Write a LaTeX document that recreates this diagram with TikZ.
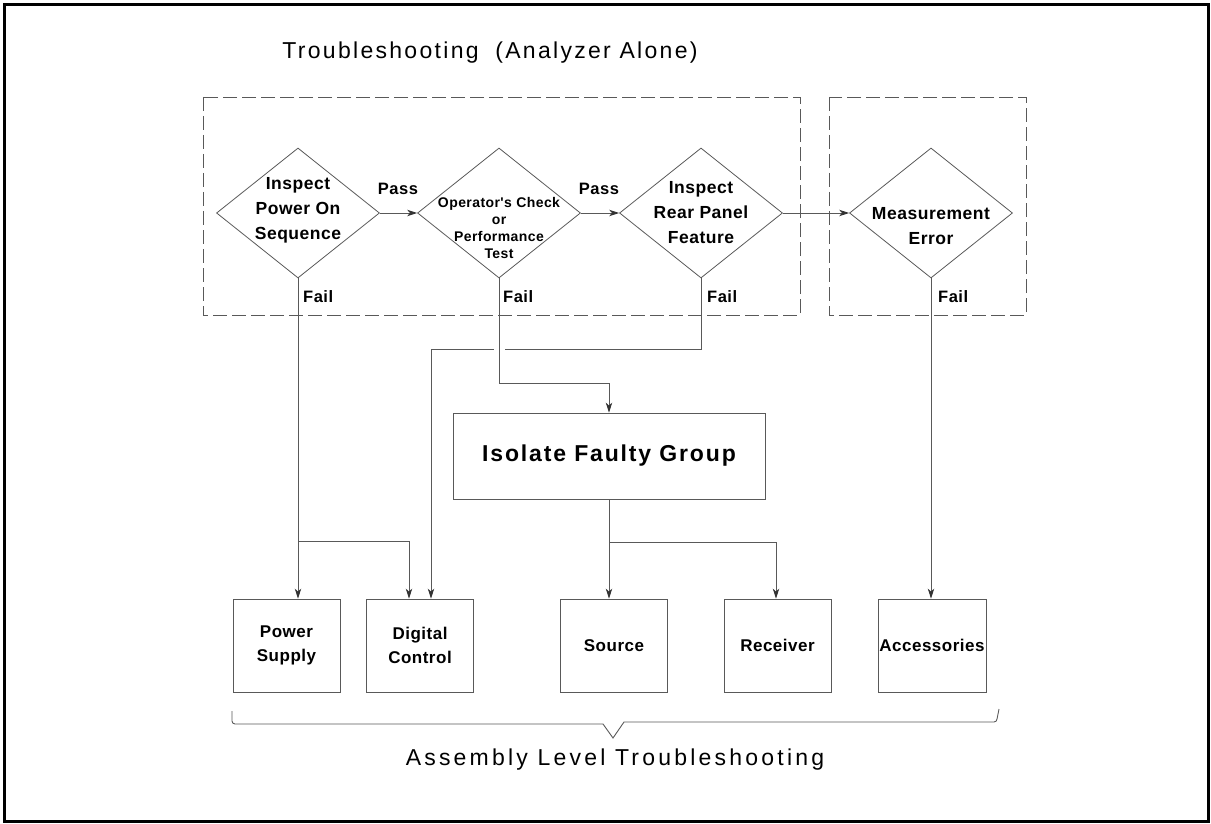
\documentclass[tikz,border=0pt]{standalone}
\usepackage{fontspec}
\setmainfont{Liberation Sans}
\newfontfamily\spc[LetterSpace=3]{Liberation Sans}
\newfontfamily\spcb[LetterSpace=8]{Liberation Sans}
\newfontfamily\spct[LetterSpace=10]{Liberation Sans}
\newfontfamily\spcbot[LetterSpace=14]{Liberation Sans}
\usetikzlibrary{shapes.geometric,arrows.meta}
\definecolor{ln}{gray}{0.35}
\tikzset{
  every node/.style={text=black},
  dia/.style={diamond,draw=ln,line width=0.8pt,minimum width=163pt,minimum height=130pt,inner sep=0pt},
  dlab/.style={align=center,font=\spc\bfseries\fontsize{17.5}{25}\selectfont},
  slab/.style={align=center,font=\spc\bfseries\fontsize{14}{17}\selectfont},
  pf/.style={font=\spc\bfseries\fontsize{16.5}{18}\selectfont,inner sep=0pt},
  blk/.style={rectangle,draw=ln,line width=0.8pt,minimum width=107pt,minimum height=93pt,inner sep=0pt,align=center,font=\spc\bfseries\fontsize{17}{24}\selectfont},
  conn/.style={draw=ln,line width=0.9pt},
  arr/.style={conn,-{Stealth[length=10pt,width=6.5pt,inset=3pt,color=black!80]}},
  dbox/.style={draw=ln,line width=0.8pt,dash pattern=on 14pt off 5pt},
}
\begin{document}
\begin{tikzpicture}[x=1pt,y=-1pt]
\useasboundingbox (0,0) rectangle (1211,824);
\draw[line width=3pt,black] (4.5,4.5) rectangle (1208.5,821.5);

\node[font=\spct\fontsize{23}{26}\selectfont] (title) at (490,53) {Troubleshooting\hspace{8pt} (Analyzer Alone)};

\draw[dbox] (203,97) rectangle (800,315);
\draw[dbox] (829,97) rectangle (1026,315);

\node[dia] (d1) at (298,213) {};
\node[dlab] (d1t) at (298,210) {Inspect\\Power On\\Sequence};
\node[dia] (d2) at (499,213) {};
\node[slab] (d2t) at (499,228) {Operator's Check\\or\\Performance\\Test};
\node[dia] (d3) at (701,213) {};
\node[dlab] (d3t) at (701,213) {Inspect\\Rear Panel\\Feature};
\node[dia] (d4) at (931,213) {};
\node[dlab] (d4t) at (931,226) {Measurement\\Error};

\node[pf] (p1) at (398,189) {Pass};
\node[pf] (p2) at (599,189) {Pass};
\node[pf,anchor=west] (f1) at (303,297) {Fail};
\node[pf,anchor=west] (f2) at (503,297) {Fail};
\node[pf,anchor=west] (f3) at (707,297) {Fail};
\node[pf,anchor=west] (f4) at (938,297) {Fail};

\node[blk,minimum width=312pt,minimum height=86pt,font=\spcb\bfseries\fontsize{23}{26}\selectfont] (iso) at (609,456) {Isolate Faulty Group};

\node[blk] (ps) at (286.5,645.5) {Power\\Supply};
\node[blk] (dc) at (420,645.5) {Digital\\Control};
\node[blk] (src) at (614,645.5) {Source};
\node[blk] (rcv) at (777.5,645.5) {Receiver};
\node[blk,minimum width=108pt] (acc) at (932,645.5) {Accessories};

\coordinate (j1) at (298,541);
\coordinate (j3) at (701,349);
\coordinate (j2) at (499,383);
\coordinate (j4) at (609,542);

\draw[arr] (d1.east) -- (d2.west);
\draw[arr] (d2.east) -- (d3.west);
\draw[arr] (d3.east) -- (d4.west);

\draw[arr] (d1.south) -- (d1.south |- ps.north);
\draw[arr] (j1) -| ([xshift=-11pt]dc.north);
\draw[arr] (d3.south) -- (j3) -| ([xshift=11pt]dc.north);
\fill[white] (494,345) rectangle (505,353);
\draw[arr] (d2.south) -- (j2) -| (iso.north);
\draw[arr] (iso.south) -- (iso.south |- src.north);
\draw[arr] (j4) -| ([xshift=-1.5pt]rcv.north);
\draw[arr] (d4.south) -- (d4.south |- acc.north);

\draw[conn] (232,711) -- (232,721) to[out=-90,in=180] (235,724) -- (603,724) -- (613,738) -- (624,722) -- (994,722) to[out=0,in=-90] (997,719) -- (999,709);

\node[font=\spcbot\fontsize{23}{26}\selectfont] (bot) at (615,760) {Assembly Level Troubleshooting};
\end{tikzpicture}
\end{document}
